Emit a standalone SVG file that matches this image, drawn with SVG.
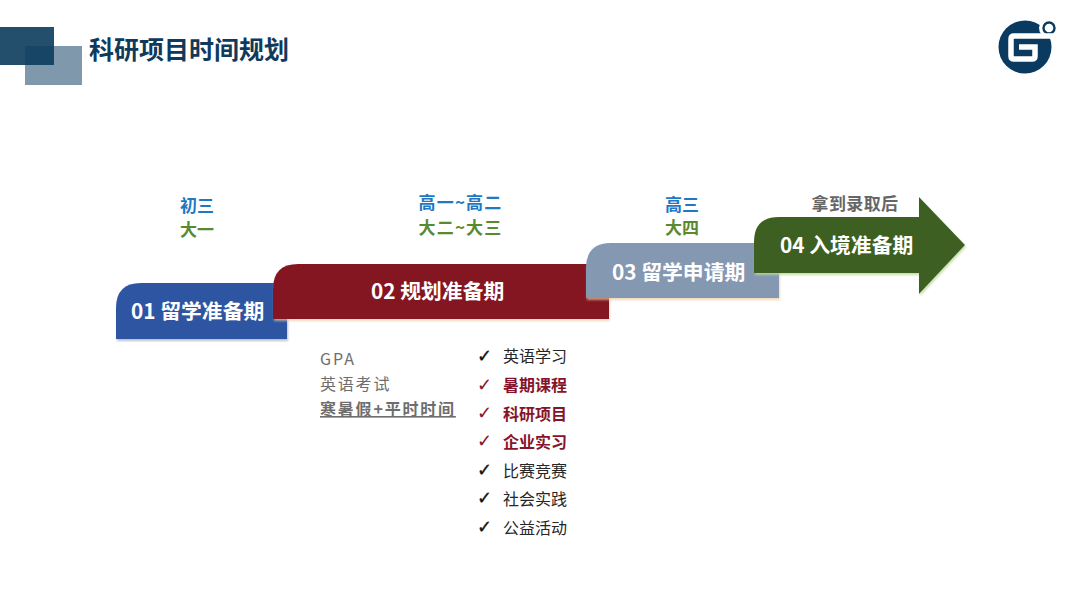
<svg xmlns="http://www.w3.org/2000/svg" width="1080" height="604" viewBox="0 0 1080 604">
<style>
text{font-family:"Noto Sans CJK SC","Noto Sans",sans-serif}
.t{font-size:20.800px;font-weight:700;fill:#fff}
.b{font-size:17px;font-weight:700;fill:#1f78c1;text-anchor:middle}
.g{font-size:17px;font-weight:700;fill:#5a8a2f;text-anchor:middle}
.l{font-size:16px;font-weight:400;fill:#262626}
.r{font-size:16px;font-weight:700;fill:#85142a}
.c{font-family:"DejaVu Sans",sans-serif;font-size:18px;fill:#111;stroke:#111;stroke-width:.3}
.cr{font-family:"DejaVu Sans",sans-serif;font-size:18px;fill:#85142a;stroke:#85142a;stroke-width:.1}
.n{font-size:16px;fill:#6e6e6e;letter-spacing:1.800px}
</style>
<defs>
<filter id="s" x="-5%" y="-10%" width="110%" height="125%"><feDropShadow dx="1" dy="2" stdDeviation="1.2" flood-color="#8a95b5" flood-opacity=".6"/></filter>
<filter id="s2" x="-5%" y="-10%" width="110%" height="125%"><feDropShadow dx="1" dy="2" stdDeviation="1.2" flood-color="#e8c9a0" flood-opacity=".7"/></filter>
<filter id="s3" x="-5%" y="-10%" width="110%" height="125%"><feDropShadow dx="1" dy="2" stdDeviation="1.2" flood-color="#bcd69a" flood-opacity=".8"/></filter>
</defs>
<rect width="1080" height="604" fill="#fff"/>
<g id="header">
<rect x="25" y="46" width="57" height="39" fill="#7f98ab"/>
<rect x="0" y="27" width="54" height="38" fill="#0b3c5d" fill-opacity=".9"/>
<text x="89" y="59" style="font-size:25px;font-weight:700;fill:#0f3a5c">科研项目时间规划</text>
</g>
<g id="logo">
<circle cx="1025" cy="47" r="26.500" fill="#0b3a60"/>
<circle cx="1049" cy="28" r="10" fill="#fff"/>
<circle cx="1049" cy="28" r="5.500" fill="none" stroke="#0b3a60" stroke-width="2.400"/>
<path d="M1054 36H1014Q1011 36 1011 39V56Q1011 59 1014 59H1032Q1035 59 1035 56V47H1019" fill="none" stroke="#fff" stroke-width="5.500"/>
</g>
<g id="step1">
<path d="M116 339V308Q116 283 141 283H287V339Z" fill="#2f54a1" filter="url(#s)"/>
<text class="t" x="131" y="319">01 留学准备期</text>
<text class="b" x="197" y="212">初三</text>
<text class="g" x="197" y="236">大一</text>
</g>
<g id="step2">
<path d="M273 319V289Q273 264 298 264H609V319Z" fill="#841322" filter="url(#s2)"/>
<text class="t" x="371" y="299">02 规划准备期</text>
<text class="b" x="460.500" y="209" style="letter-spacing:1.200px">高一~高二</text>
<text class="g" x="460.500" y="234" style="letter-spacing:1.200px">大二~大三</text>
</g>
<g id="step3">
<path d="M586 298V268Q586 243 611 243H779V298Z" fill="#8598b1" filter="url(#s2)"/>
<text class="t" x="612" y="280">03 留学申请期</text>
<text class="b" x="682" y="211">高三</text>
<text class="g" x="682" y="234">大四</text>
</g>
<g id="step4">
<path d="M754 273V242Q754 217 779 217H919V197L965 245L919 294V273Z" fill="#3d5f20" filter="url(#s3)"/>
<text class="t" x="780" y="253">04 入境准备期</text>
<text x="855" y="210" style="font-size:17px;font-weight:700;fill:#666;text-anchor:middle;letter-spacing:.4px">拿到录取后</text>
</g>
<g id="notes">
<text class="n" x="320" y="365" style="letter-spacing:2px">GPA</text>
<text class="n" x="320" y="390">英语考试</text>
<text class="n" x="320" y="415" style="font-weight:700;text-decoration:underline">寒暑假+平时时间</text>
</g>
<g id="checklist">
<text class="c" x="477" y="362">✓</text><text class="l" x="503" y="362">英语学习</text>
<text class="cr" x="477" y="391">✓</text><text class="r" x="503" y="391">暑期课程</text>
<text class="cr" x="477" y="419">✓</text><text class="r" x="503" y="420">科研项目</text>
<text class="cr" x="477" y="447">✓</text><text class="r" x="503" y="448">企业实习</text>
<text class="c" x="477" y="476">✓</text><text class="l" x="503" y="477">比赛竞赛</text>
<text class="c" x="477" y="504">✓</text><text class="l" x="503" y="505">社会实践</text>
<text class="c" x="477" y="533">✓</text><text class="l" x="503" y="534">公益活动</text>
</g>
</svg>
